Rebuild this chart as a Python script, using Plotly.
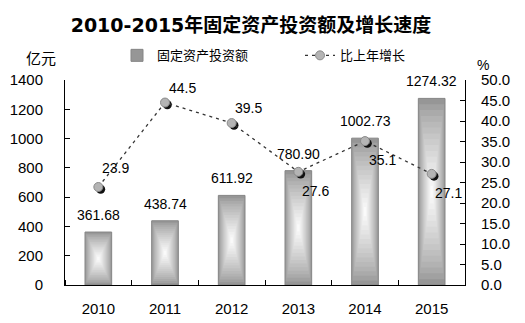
import plotly.graph_objects as go

years = ["2010", "2011", "2012", "2013", "2014", "2015"]
investment = [361.68, 438.74, 611.92, 780.90, 1002.73, 1274.32]
growth = [23.9, 44.5, 39.5, 27.6, 35.1, 27.1]

title_text = "2010-2015年固定资产投资额及增长速度"
bar_name = "固定资产投资额"
line_name = "比上年增长"
left_unit = "亿元"
right_unit = "%"

# label placement style for the growth labels
growth_label_side = ["above", "above", "above", "below", "below", "below"]

xs = list(range(len(years)))
BAR_W = 0.4
NUM_FONT = "Liberation Sans, Arial, sans-serif"
CJK_FONT = "Noto Sans CJK SC, sans-serif"

fig = go.Figure()

# gradient bars: nested rectangles from gray edge to white centre
N = 16
for k in range(N):
    t = k / N
    g = int(round(150 + (255 - 150) * (t ** 0.8)))
    col = f"rgb({g},{g},{g})"
    fig.add_trace(go.Bar(
        x=xs,
        y=[v * (1 - t) for v in investment],
        base=[v * t / 2 for v in investment],
        width=BAR_W * (1 - t * 0.97),
        marker=dict(color=col,
                    line=dict(color="#858585", width=1 if k == 0 else 0)),
        name=bar_name,
        showlegend=(k == 0),
        hoverinfo="skip",
    ))

# marker shadows
fig.add_trace(go.Scatter(
    x=[x + 0.035 for x in xs], y=[g - 0.55 for g in growth], yaxis="y2",
    mode="markers", marker=dict(size=9, color="#111111"),
    showlegend=False, hoverinfo="skip",
))
fig.add_trace(go.Scatter(
    x=xs, y=growth, yaxis="y2", mode="lines+markers", name=line_name,
    line=dict(color="#333333", width=1.3, dash="3px,4px"),
    marker=dict(size=9, color="#b4b4b4", line=dict(color="#8a8a8a", width=1)),
))

annotations = []
for x, v in zip(xs, investment):
    annotations.append(dict(
        x=x, y=v, xref="x", yref="y", text=f"{v:.2f}", showarrow=False,
        yanchor="bottom", yshift=7, font=dict(family=NUM_FONT, size=14, color="black"),
    ))
for x, g, side in zip(xs, growth, growth_label_side):
    annotations.append(dict(
        x=x, y=g, xref="x", yref="y2", text=f"{g:.1f}", showarrow=False,
        xanchor="center", yanchor="middle",
        xshift=17, yshift=(19 if side == "above" else -19) if x != 1 and x != 2 else 15,
        font=dict(family=NUM_FONT, size=14, color="black"),
    ))
annotations.append(dict(x=-0.06, y=1.112, xref="paper", yref="paper", text=left_unit,
                        showarrow=False, xanchor="center", yanchor="middle",
                        font=dict(family=CJK_FONT, size=15, color="black")))
annotations.append(dict(x=1.045, y=1.073, xref="paper", yref="paper", text=right_unit,
                        showarrow=False, xanchor="center", yanchor="middle",
                        font=dict(family=NUM_FONT, size=14, color="black")))

fig.update_layout(
    width=525, height=323,
    margin=dict(l=65, r=60, t=80, b=38, autoexpand=False),
    paper_bgcolor="white", plot_bgcolor="white",
    barmode="overlay",
    title=dict(text=f"<b>{title_text}</b>", x=0.465, xref="paper", xanchor="center",
               y=0.922, yanchor="middle",
               font=dict(family="DejaVu Sans, Noto Sans CJK SC, sans-serif", size=19, color="black")),
    legend=dict(orientation="h", x=0.13, y=1.12, xanchor="left", yanchor="middle",
                font=dict(family=CJK_FONT, size=13, color="black"),
                entrywidth=138, entrywidthmode="pixels", bgcolor="rgba(0,0,0,0)"),
    xaxis=dict(range=[-0.5, 5.5], tickvals=xs, ticktext=years, ticks="",
               showline=True, linecolor="black", linewidth=1, showgrid=False, zeroline=False,
               tickfont=dict(family=NUM_FONT, size=15, color="black"),
               ticklabelstandoff=10, automargin=False,
               minor=dict(tick0=0.5, dtick=1, ticks="inside", ticklen=5, tickcolor="black")),
    yaxis=dict(range=[0, 1400], dtick=200, ticks="inside", ticklen=5, tickcolor="black",
               showline=True, linecolor="black", linewidth=1, showgrid=False, zeroline=False,
               tickfont=dict(family=NUM_FONT, size=15, color="black"),
               ticklabelstandoff=18, automargin=False),
    yaxis2=dict(range=[0, 50], dtick=5, tickformat=".1f", overlaying="y", side="right",
                ticks="inside", ticklen=5, tickcolor="black",
                showline=True, linecolor="black", linewidth=1, showgrid=False, zeroline=False,
                tickfont=dict(family=NUM_FONT, size=15, color="black"),
                ticklabelstandoff=12, automargin=False),
    annotations=annotations,
)

fig.write_html("out.html")
